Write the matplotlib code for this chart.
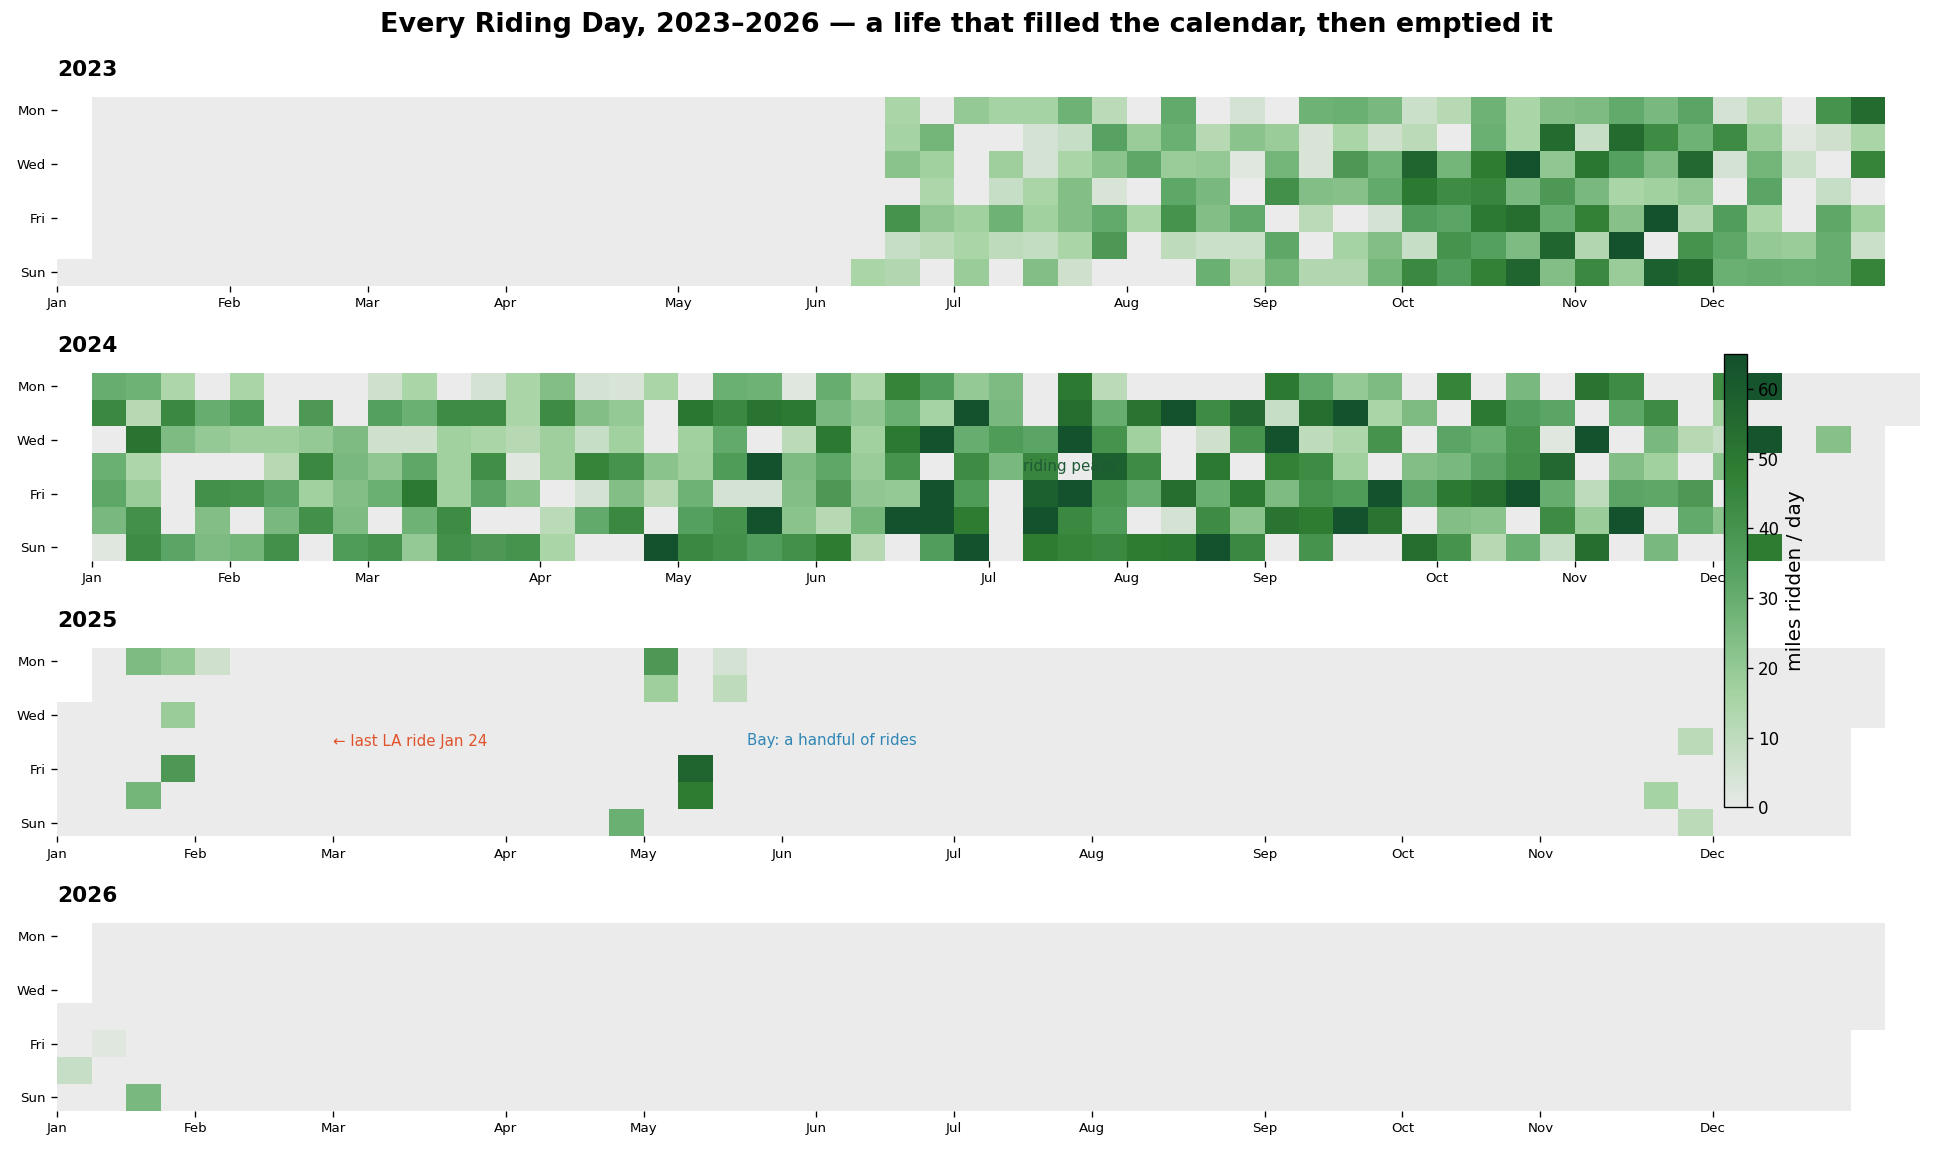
import datetime as dt
import numpy as np
import matplotlib
matplotlib.use("Agg")
import matplotlib.pyplot as plt
from matplotlib.colors import LinearSegmentedColormap, ListedColormap

YEARS = [2023, 2024, 2025, 2026]
MONTHS = ['Jan', 'Feb', 'Mar', 'Apr', 'May', 'Jun',
          'Jul', 'Aug', 'Sep', 'Oct', 'Nov', 'Dec']
DAY_TICKS = ['Mon', 'Wed', 'Fri', 'Sun']

# 2023: miles per day, rows Mon..Sun, columns = %W week 23..52
START_WEEK_2023 = 23
MILES_2023 = [
    [0, 15, 0, 20, 16, 16, 28, 11, 0, 31, 0, 5, 0, 28, 29, 26, 7, 12, 28, 15, 24, 25, 31, 26, 33, 5, 12, 0, 40, 55],
    [0, 16, 27, 0, 0, 5, 8, 34, 19, 29, 12, 22, 19, 4, 15, 6, 11, 0, 29, 15, 55, 8, 55, 43, 28, 43, 19, 2, 6, 15],
    [0, 22, 17, 0, 18, 5, 15, 22, 32, 19, 20, 2, 27, 4, 38, 28, 57, 27, 49, 64, 21, 51, 35, 25, 56, 5, 27, 7, 0, 46],
    [0, 0, 14, 0, 8, 15, 24, 4, 0, 32, 26, 0, 41, 24, 23, 31, 50, 43, 45, 26, 38, 26, 15, 17, 21, 0, 33, 0, 8, 0],
    [0, 40, 21, 17, 28, 17, 24, 31, 15, 40, 24, 31, 0, 11, 0, 5, 36, 33, 50, 54, 30, 47, 23, 64, 13, 36, 15, 0, 32, 17],
    [0, 8, 11, 15, 10, 9, 15, 38, 0, 10, 7, 7, 32, 0, 16, 24, 8, 40, 35, 25, 57, 13, 64, 0, 40, 32, 20, 19, 30, 7],
    [15, 13, 0, 19, 0, 24, 6, 0, 0, 0, 29, 12, 27, 13, 13, 27, 44, 36, 47, 57, 24, 44, 19, 59, 55, 29, 30, 29, 30, 46],
]

# 2024: rows Mon..Sun, columns = %W week 1..53
START_WEEK_2024 = 1
MILES_2024 = [
    [30, 28, 14, 0, 15, 0, 0, 0, 6, 15, 0, 5, 15, 24, 5, 4, 15, 0, 29, 28, 2, 30, 14, 46, 36, 20, 25, 0, 50, 11,
     0, 0, 0, 0, 50, 31, 20, 25, 0, 46, 0, 26, 0, 52, 43, 0, 0, 43, 63, 0, 0, 0, 0],
    [44, 12, 44, 30, 37, 0, 38, 0, 35, 29, 43, 43, 15, 43, 24, 20, 0, 51, 44, 52, 50, 26, 21, 29, 16, 64, 26, 0, 54, 30,
     52, 64, 43, 56, 8, 54, 64, 15, 25, 0, 50, 36, 33, 0, 32, 43, 0, 18, 0, 0, 0, 0, 0],
    [0, 52, 25, 20, 18, 18, 20, 25, 6, 6, 17, 15, 12, 18, 8, 17, 0, 17, 31, 0, 11, 50, 17, 50, 64, 30, 37, 33, 64, 40,
     17, 0, 6, 40, 64, 10, 14, 40, 0, 33, 29, 40, 2, 64, 0, 26, 12, 8, 63, 0, 23, 0],
    [29, 14, 0, 0, 0, 12, 44, 26, 21, 32, 17, 42, 2, 18, 46, 40, 22, 18, 37, 64, 25, 32, 19, 40, 0, 43, 26, 45, 0, 59,
     43, 0, 50, 0, 47, 43, 17, 0, 24, 26, 33, 41, 56, 0, 24, 17, 0, 22, 0, 0, 0, 0],
    [32, 19, 0, 41, 40, 33, 17, 24, 29, 50, 17, 33, 22, 0, 5, 24, 12, 28, 5, 5, 24, 38, 21, 20, 64, 37, 0, 59, 64, 39,
     30, 54, 29, 50, 25, 40, 37, 64, 33, 50, 54, 64, 30, 10, 33, 32, 38, 0, 0, 0, 0, 0],
    [26, 41, 0, 24, 0, 26, 41, 25, 0, 28, 43, 0, 0, 11, 31, 44, 0, 35, 40, 64, 22, 12, 27, 64, 64, 49, 0, 64, 44, 37,
     0, 5, 43, 22, 52, 49, 64, 52, 0, 24, 22, 0, 43, 19, 64, 0, 31, 22, 0, 0, 0, 0],
    [2, 43, 33, 25, 27, 41, 0, 37, 40, 20, 41, 38, 40, 15, 0, 0, 64, 44, 41, 36, 41, 49, 12, 0, 36, 64, 0, 49, 46, 44,
     49, 50, 64, 44, 0, 40, 0, 0, 54, 40, 12, 29, 8, 54, 0, 26, 0, 0, 49, 0, 0, 0],
]

# 2025 / 2026: only a handful of rides
RIDES_2025 = [('2025-01-13', 25), ('2025-01-18', 27), ('2025-01-20', 20), ('2025-01-22', 19),
              ('2025-01-24', 38), ('2025-01-27', 6), ('2025-04-27', 29), ('2025-04-28', 38),
              ('2025-04-29', 18), ('2025-05-09', 57), ('2025-05-10', 49), ('2025-05-12', 5),
              ('2025-05-13', 10), ('2025-11-22', 16), ('2025-11-27', 11), ('2025-11-30', 11)]
RIDES_2026 = [('2026-01-03', 8), ('2026-01-09', 2), ('2026-01-18', 26)]

VMAX = 65
cmap = LinearSegmentedColormap.from_list(
    'ride', ['#e6e9e6', '#a5d3a2', '#5ba666', '#2e7d32', '#134f2d'])
grey = ListedColormap(['#ebebeb'])


def year_mask(year):
    m = np.full((7, 54), np.nan)
    d = dt.date(year, 1, 1)
    while d.year == year:
        m[d.weekday(), int(d.strftime('%W'))] = 1
        d += dt.timedelta(days=1)
    return m


def grid_from_rows(rows, start):
    g = np.zeros((7, 54))
    for r, vals in enumerate(rows):
        g[r, start:start + len(vals)] = vals
    return g


def grid_from_rides(rides):
    g = np.zeros((7, 54))
    for s, miles in rides:
        d = dt.date.fromisoformat(s)
        g[d.weekday(), int(d.strftime('%W'))] = miles
    return g


grids = {
    2023: grid_from_rows(MILES_2023, START_WEEK_2023),
    2024: grid_from_rows(MILES_2024, START_WEEK_2024),
    2025: grid_from_rides(RIDES_2025),
    2026: grid_from_rides(RIDES_2026),
}

W, H = 1933, 1151
fig = plt.figure(figsize=(W / 120, H / 120), dpi=120)

tops = [96.7, 372.7, 647.7, 922.7]
bots = [285.7, 560.7, 836.0, 1110.7]
left, width = 57.4 / W, 1862.4 / W

axes = []
for year, top, bot in zip(YEARS, tops, bots):
    ax = fig.add_axes([left, 1 - bot / H, width, (bot - top) / H])
    mask = year_mask(year)
    vals = np.where((mask == 1) & (grids[year] > 0), grids[year], np.nan)
    ax.pcolormesh(np.arange(55), np.arange(8), mask, cmap=grey, vmin=0, vmax=2,
                  shading='flat', antialiased=False, linewidth=0)
    im = ax.pcolormesh(np.arange(55), np.arange(8), vals, cmap=cmap, vmin=0, vmax=VMAX,
                       shading='flat', antialiased=False, linewidth=0)
    ax.set_xlim(0, 54)
    ax.set_ylim(7, 0)
    ax.set_yticks([0.5, 2.5, 4.5, 6.5])
    ax.set_yticklabels(DAY_TICKS, fontsize=8)
    ax.set_xticks([int(dt.date(year, m, 1).strftime('%W')) for m in range(1, 13)])
    ax.set_xticklabels(MONTHS, fontsize=8)
    for s in ax.spines.values():
        s.set_visible(False)
    ax.set_title(str(year), loc='left', fontsize=13, fontweight='bold', pad=12.4)
    axes.append(ax)

axes[1].text(28, 3.5, 'riding peaks', fontsize=9, color='#1e5a35', va='center', ha='left')
axes[2].text(8, 3.5, '\u2190 last LA ride Jan 24', fontsize=9, color='#e0522a', va='center', ha='left')
axes[2].text(20, 3.45, 'Bay: a handful of rides', fontsize=9, color='#2f86b5', va='center', ha='left')

fig.text(0.5, 1 - 31.7 / H,
         'Every Riding Day, 2023\u20132026 \u2014 a life that filled the calendar, then emptied it',
         ha='center', va='baseline', fontsize=16.2, fontweight='bold')

cax = fig.add_axes([1724.4 / W, 1 - 807.3 / H, 22.1 / W, 453.3 / H])
cb = fig.colorbar(im, cax=cax)
cb.set_ticks([0, 10, 20, 30, 40, 50, 60])
cb.ax.tick_params(labelsize=10)
cb.set_label('miles ridden / day', fontsize=12)

fig.savefig('out.png', dpi=120)
